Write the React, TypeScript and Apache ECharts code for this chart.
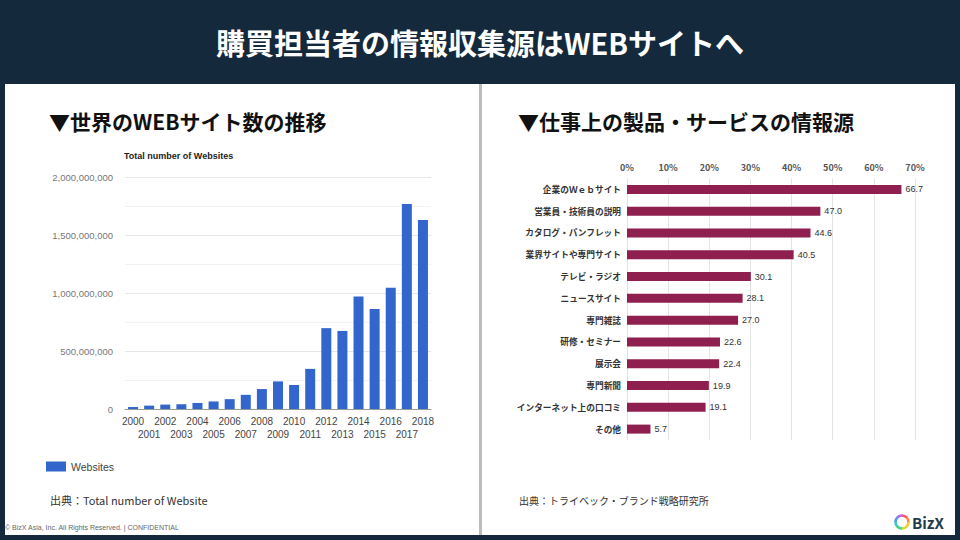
import React, { useEffect, useRef } from "react";
import * as echarts from "echarts";

const years = ["2000","2001","2002","2003","2004","2005","2006","2007","2008","2009","2010","2011","2012","2013","2014","2015","2016","2017","2018"];
const websites = [17000000, 29000000, 38000000, 41000000, 52000000, 65000000, 85000000, 122000000, 172000000, 238000000, 207000000, 346000000, 697000000, 673000000, 969000000, 863000000, 1046000000, 1767000000, 1630000000];

const sources = ["企業のＷｅｂサイト","営業員・技術員の説明","カタログ・パンフレット","業界サイトや専門サイト","テレビ・ラジオ","ニュースサイト","専門雑誌","研修・セミナー","展示会","専門新聞","インターネット上の口コミ","その他"];
const shares = [66.7, 47.0, 44.6, 40.5, 30.1, 28.1, 27.0, 22.6, 22.4, 19.9, 19.1, 5.7];

const JP = '"Noto Sans CJK JP", "Noto Sans", sans-serif';
const AR = '"Liberation Sans", Arial, sans-serif';

const ringColors = ["#ff4f7a", "#ff8a3d", "#ffc233", "#c8e234", "#4cd37a", "#35c9c9", "#4aa0f0", "#b069e8"];

export default function App() {
  const ref = useRef<HTMLDivElement>(null);
  useEffect(() => {
    if (!ref.current) return;
    const chart = echarts.init(ref.current, null, { renderer: "svg" });
    const ringArcs = ringColors.map((c, i) => ({
      type: "arc",
      shape: { cx: 902, cy: 522, r: 6.5, startAngle: -Math.PI / 2 + (i * 2 * Math.PI) / ringColors.length, endAngle: -Math.PI / 2 + ((i + 1) * 2 * Math.PI) / ringColors.length + 0.05 },
      style: { stroke: c, lineWidth: 2.6, fill: "none" },
      z: 10,
    }));
    chart.setOption({
      animation: false,
      backgroundColor: "#14293b",
      textStyle: { fontFamily: JP },
      graphic: [
        { type: "rect", shape: { x: 5, y: 84, width: 950, height: 451 }, style: { fill: "#ffffff" }, z: -10 },
        { type: "rect", shape: { x: 479, y: 84, width: 3, height: 451 }, style: { fill: "#bdbdbd" }, z: -9 },
        { type: "text", x: 480, y: 42, style: { text: "購買担当者の情報収集源はWEBサイトへ", fill: "#ffffff", font: `bold 29px ${JP}`, textAlign: "center", textVerticalAlign: "middle" } },
        { type: "text", x: 49, y: 121, style: { text: "▼世界のWEBサイト数の推移", fill: "#111111", font: `bold 21px ${JP}`, textVerticalAlign: "middle" } },
        { type: "text", x: 518, y: 121, style: { text: "▼仕事上の製品・サービスの情報源", fill: "#111111", font: `bold 21px ${JP}`, textVerticalAlign: "middle" } },
        { type: "text", x: 124, y: 156, style: { text: "Total number of Websites", fill: "#222222", font: `bold 9px ${AR}`, textVerticalAlign: "middle" } },
        { type: "text", x: 50, y: 500, style: { text: "出典：Total number of Website", fill: "#333333", font: `11px ${JP}`, textVerticalAlign: "middle" } },
        { type: "text", x: 519, y: 500, style: { text: "出典：トライベック・ブランド戦略研究所", fill: "#333333", font: `10px ${JP}`, textVerticalAlign: "middle" } },
        { type: "text", x: 5, y: 527, style: { text: "© BizX Asia, Inc. All Rights Reserved. | CONFIDENTIAL", fill: "#666666", font: `7px ${AR}`, textVerticalAlign: "middle" } },
        ...ringArcs,
        { type: "text", x: 912, y: 522, style: { text: "BizX", fill: "#23394d", font: `bold 15px ${JP}`, textVerticalAlign: "middle" } },
      ],
      legend: {
        data: ["Websites"],
        left: 46,
        top: 461,
        itemWidth: 20,
        itemHeight: 10,
        icon: "rect",
        padding: 0,
        textStyle: { fontSize: 10.5, color: "#444444", fontFamily: AR },
      },
      grid: [
        { left: 125, top: 177, width: 306, height: 232, containLabel: false },
        { left: 627, top: 178.5, width: 288, height: 261.5, containLabel: false },
      ],
      xAxis: [
        {
          type: "category",
          gridIndex: 0,
          data: years,
          axisTick: { show: false },
          axisLine: { lineStyle: { color: "#999999", width: 1 } },
          axisLabel: {
            interval: 0,
            margin: 6,
            fontSize: 10,
            lineHeight: 13,
            color: "#444444",
            fontFamily: AR,
            formatter: (v: string, i: number) => (i % 2 === 1 ? "\n" + v : v),
          },
        },
        {
          type: "value",
          gridIndex: 1,
          position: "top",
          min: 0,
          max: 70,
          interval: 10,
          axisLine: { show: false },
          axisTick: { show: false },
          splitLine: { lineStyle: { color: "#e4e4e4" } },
          axisLabel: { formatter: "{value}%", fontSize: 9, fontWeight: "bold", color: "#555555", margin: 7, fontFamily: JP },
        },
      ],
      yAxis: [
        {
          type: "value",
          gridIndex: 0,
          min: 0,
          max: 2000000000,
          interval: 500000000,
          splitNumber: 4,
          axisLine: { show: false },
          axisTick: { show: false },
          splitLine: { lineStyle: { color: "#e6e6e6" } },
          minorTick: { show: false, splitNumber: 2 },
          minorSplitLine: { show: true, lineStyle: { color: "#f2f2f2" } },
          axisLabel: {
            fontSize: 9.5,
            color: "#777777",
            margin: 12,
            fontFamily: AR,
            formatter: (v: number) => v.toLocaleString("en-US"),
          },
        },
        {
          type: "category",
          gridIndex: 1,
          data: sources,
          inverse: true,
          axisLine: { show: false },
          axisTick: { show: false },
          axisLabel: { fontSize: 8.7, fontWeight: "bold", color: "#333333", margin: 6, fontFamily: JP },
        },
      ],
      series: [
        {
          name: "Websites",
          type: "bar",
          xAxisIndex: 0,
          yAxisIndex: 0,
          data: websites,
          barWidth: 10,
          itemStyle: { color: "#3366cc" },
        },
        {
          name: "情報源",
          type: "bar",
          xAxisIndex: 1,
          yAxisIndex: 1,
          data: shares,
          barWidth: 9,
          itemStyle: { color: "#8e1f4e" },
          label: {
            show: true,
            position: "right",
            distance: 4,
            fontSize: 9,
            color: "#333333",
            fontFamily: AR,
            formatter: (p: any) => Number(p.value).toFixed(1),
          },
        },
      ],
    });
    return () => chart.dispose();
  }, []);
  return <div ref={ref} style={{ position: "fixed", left: 0, top: 0, width: 960, height: 540 }} />;
}
